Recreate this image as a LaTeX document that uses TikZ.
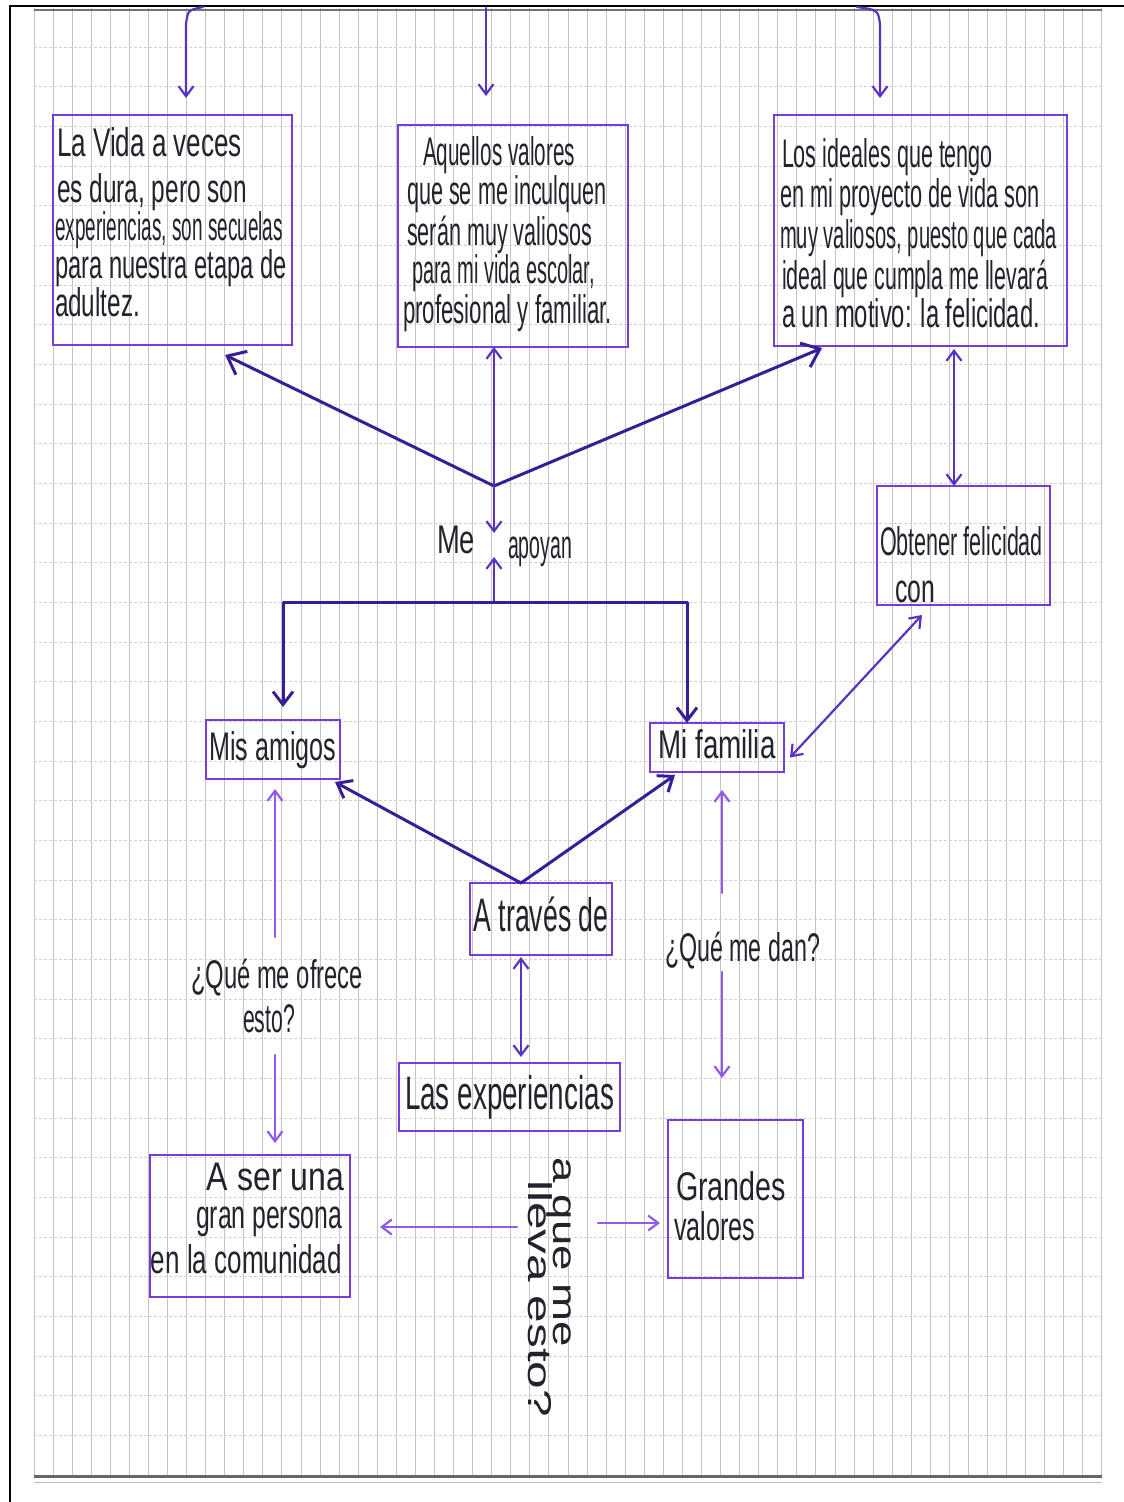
\documentclass[tikz,border=0pt]{standalone}
\usepackage{fontspec}
\usepackage{graphicx}
\setmainfont{Liberation Sans}
\newfontfamily\handfont{Liberation Sans}
\usetikzlibrary{arrows.meta,calc}
\definecolor{ink}{RGB}{35,35,45}
\definecolor{boxcol}{RGB}{120,60,215}
\definecolor{darkarr}{RGB}{55,30,150}
\definecolor{midarr}{RGB}{90,50,195}
\definecolor{lightarr}{RGB}{145,90,235}
\definecolor{gridv}{RGB}{196,196,196}
\definecolor{gridh}{RGB}{210,210,210}
\newcommand\hw[2]{\resizebox{#1pt}{\height}{#2}}
\begin{document}
\begin{tikzpicture}[x=1pt,y=-1pt,
  hand/.style={inner sep=0pt, outer sep=0pt, text height=29pt, text depth=8pt,
    font=\handfont\fontsize{40}{40}\selectfont, text=ink},
  vhand/.style={hand, text height=24pt, text depth=7pt, font=\handfont\fontsize{33}{33}\selectfont},
  box/.style={draw=boxcol, line width=2.6pt, inner sep=0pt, outer sep=0pt,
    text height=29pt, text depth=8pt, font=\handfont\fontsize{40}{40}\selectfont, text=ink},
  bigbox/.style={box, text height=34pt, text depth=9pt, font=\handfont\fontsize{47}{47}\selectfont},
  darkline/.style={draw=darkarr, line width=3pt, line cap=round, line join=round},
  midline/.style={draw=midarr, line width=2.2pt, line cap=round},
  lightline/.style={draw=lightarr, line width=2.2pt, line cap=round},
  >={Straight Barb[length=10pt,width=15pt]},
  bigtip/.tip={Straight Barb[length=16pt,width=26pt]},
  medtip/.tip={Straight Barb[length=13pt,width=20pt]}
]
\useasboundingbox (0,0) rectangle (1124,1502);
\fill[white] (0,0) rectangle (1124,1502);
% graph paper
\foreach \i in {0,...,56} \draw[gridv, line width=0.9pt] ({34+19.07*\i},8) -- ({34+19.07*\i},1475);
\foreach \j in {1,...,36} \draw[gridh, line width=0.8pt, dash pattern=on 3pt off 2pt] (34,{7.5+39.66*\j}) -- (1102,{7.5+39.66*\j});
\draw[black!55, line width=2.5pt] (34,10) -- (1102,10);
\draw[black!60, line width=3pt] (34,1476) -- (1102,1476);
\draw[black!25, line width=1pt] (34,1482) -- (1102,1482);
\draw[black, line width=2pt] (10,1502) -- (10,6) -- (1124,6);

% boxes
\node[box, minimum width=239pt, minimum height=230pt] (bA) at (172.5,230) {};
\node[box, minimum width=230pt, minimum height=222pt] (bB) at (513,236) {};
\node[box, minimum width=293pt, minimum height=231pt] (bC) at (920.5,230.5) {};
\node[box, minimum width=173pt, minimum height=119pt] (bD) at (963.5,545.5) {};
\node[box, minimum width=134pt, minimum height=59pt] (mis) at (273,749.5) {\hw{127}{Mis amigos}};
\node[box, minimum width=134pt, minimum height=49pt] (fam) at (717,747.5) {\hw{117}{Mi familia}};
\node[bigbox, minimum width=142pt, minimum height=72pt] (atr) at (541,919) {\hw{135}{A través de}};
\node[bigbox, minimum width=221pt, minimum height=68pt] (las) at (509.5,1097) {\hw{209}{Las experiencias}};
\node[box, minimum width=200pt, minimum height=142pt] (sera) at (250,1226) {};
\node[box, minimum width=135pt, minimum height=158pt] (gv) at (735.5,1199) {};

% texts of box A
\node[hand, anchor=west] (a1) at (57,146) {\hw{185}{La Vida a veces}};
\node[hand, anchor=west] (a2) at (57,192) {\hw{190}{es dura, pero son}};
\node[hand, anchor=west] (a3) at (55,230) {\hw{228}{experiencias, son secuelas}};
\node[hand, anchor=west] (a4) at (55,268) {\hw{232}{para nuestra etapa de}};
\node[hand, anchor=west] (a5) at (55,306) {\hw{85}{adultez.}};
% box B
\node[hand, anchor=west] (b1) at (423,155) {\hw{152}{Aquellos valores}};
\node[hand, anchor=west] (b2) at (407,194) {\hw{200}{que se me inculquen}};
\node[hand, anchor=west] (b3) at (407,235) {\hw{185}{serán muy valiosos}};
\node[hand, anchor=west] (b4) at (412,273) {\hw{183}{para mi vida escolar,}};
\node[hand, anchor=west] (b5) at (403,313) {\hw{209}{profesional y familiar.}};
% box C
\node[hand, anchor=west] (c1) at (782,157) {\hw{211}{Los ideales que tengo}};
\node[hand, anchor=west] (c2) at (780,197) {\hw{260}{en mi proyecto de vida son}};
\node[hand, anchor=west] (c3) at (780,238) {\hw{277}{muy valiosos, puesto que cada}};
\node[hand, anchor=west] (c4) at (782,279) {\hw{266}{ideal que cumpla me llevará}};
\node[hand, anchor=west] (c5) at (782,317) {\hw{258}{a un motivo: la felicidad.}};
% box D
\node[hand, anchor=west] (d1) at (880,545) {\hw{163}{Obtener felicidad}};
\node[hand, anchor=west] (d2) at (895,592) {\hw{40}{con}};
% box "A ser una"
\node[hand, anchor=east] (s1) at (344,1180) {\hw{137}{A ser una}};
\node[hand, anchor=east] (s2) at (342,1218) {\hw{146}{gran persona}};
\node[hand, anchor=east] (s3) at (342,1263) {\hw{191}{en la comunidad}};
% box "Grandes valores"
\node[hand, anchor=west] (g1) at (676,1190) {\hw{110}{Grandes}};
\node[hand, anchor=west] (g2) at (674,1230) {\hw{81}{valores}};
% free labels
\node[hand, anchor=west] (me1) at (437,543) {\hw{38}{Me}};
\node[hand, anchor=west] (me2) at (508,548) {\hw{64}{apoyan}};
\node[hand, anchor=west] (q1a) at (191,978) {\hw{172}{¿Qué me ofrece}};
\node[hand, anchor=west] (q1b) at (243,1022) {\hw{52}{esto?}};
\node[hand, anchor=west] (q2a) at (665,951) {\hw{155}{¿Qué me dan?}};
\node[vhand, anchor=west, rotate=-90] (q3a) at (562,1157) {\hw{190}{a que me}};
\node[vhand, anchor=west, rotate=-90] (q3b) at (537,1180) {\hw{237}{lleva esto?}};

% coordinates
\coordinate (J) at (494,486);
\coordinate (meN) at (494,533);
\coordinate (meS) at (494,557);
\coordinate (barL) at (283,602);
\coordinate (barR) at (687,602);
\coordinate (xCD) at (954,400);
\coordinate (xAL) at (521,1000);
\coordinate (q1top) at (275,937);
\coordinate (q1bot) at (275,1055);
\coordinate (q2top) at (722,893);
\coordinate (q2bot) at (722,972);
\coordinate (q3L) at (517,1227);
\coordinate (q3R) at (598,1223);
\coordinate (t1a) at (203,7);
\coordinate (t1b) at (186,24);
\coordinate (t2) at (486,8);
\coordinate (t3a) at (857,7);
\coordinate (t3b) at (880,24);

% top arrows
\draw[midline, ->, shorten >=17pt] (t1a) .. controls (188,10) .. (t1b) -- (t1b |- bA.north);
\draw[midline, ->, shorten >=29pt] (t2) -- (t2 |- bB.north);
\draw[midline, ->, shorten >=17pt] (t3a) .. controls (878,10) .. (t3b) -- (t3b |- bC.north);

% junction arrows
\draw[darkline, -bigtip] (J) -- ($(bA.south west)!0.72!(bA.south east)+(0,10)$);
\draw[midline, ->] (J) -- (J |- bB.south);
\draw[darkline, -bigtip] (J) -- ($(bC.south west)!0.164!(bC.south east)+(0,2)$);
\draw[midline, ->] (J) -- (meN);
\draw[midline, ->] (barL -| J) -- (meS);
\draw[darkline, medtip-medtip, shorten <=13pt] (barL |- mis.north) -- (barL) -- (barR) -- (barR |- fam.north);

% right side
\draw[midline, <->, shorten <=3pt] (xCD |- bC.south) -- (xCD |- bD.north);
\draw[midline, <->] ($(bD.south west)!0.26!(bD.south east)+(0,10)$) -- ($(fam.east)+(6,10)$);

% from "A través de"
\draw[darkline, -medtip] ($(atr.north)+(-20,0)$) -- ($(mis.south east)+(-5,3)$);
\draw[darkline, -medtip] ($(atr.north)+(-20,0)$) -- ($(fam.south)+(-42,3)$);
\draw[midline, <->, shorten <=2pt, shorten >=6pt] (xAL |- atr.south) -- (xAL |- las.north);

% question arrows
\draw[lightline, ->, shorten >=10pt] (q1top) -- (q1top |- mis.south);
\draw[lightline, ->, shorten >=12pt] (q1bot) -- (q1bot |- sera.north);
\draw[lightline, ->, shorten >=18pt] (q2top) -- (q2top |- fam.south);
\draw[lightline, ->, shorten >=42pt] (q2bot) -- (q2bot |- gv.north);
\draw[lightline, ->, shorten >=30pt] (q3L) -- (q3L -| sera.east);
\draw[lightline, ->, shorten >=8pt] (q3R) -- (q3R -| gv.west);
\end{tikzpicture}
\end{document}
